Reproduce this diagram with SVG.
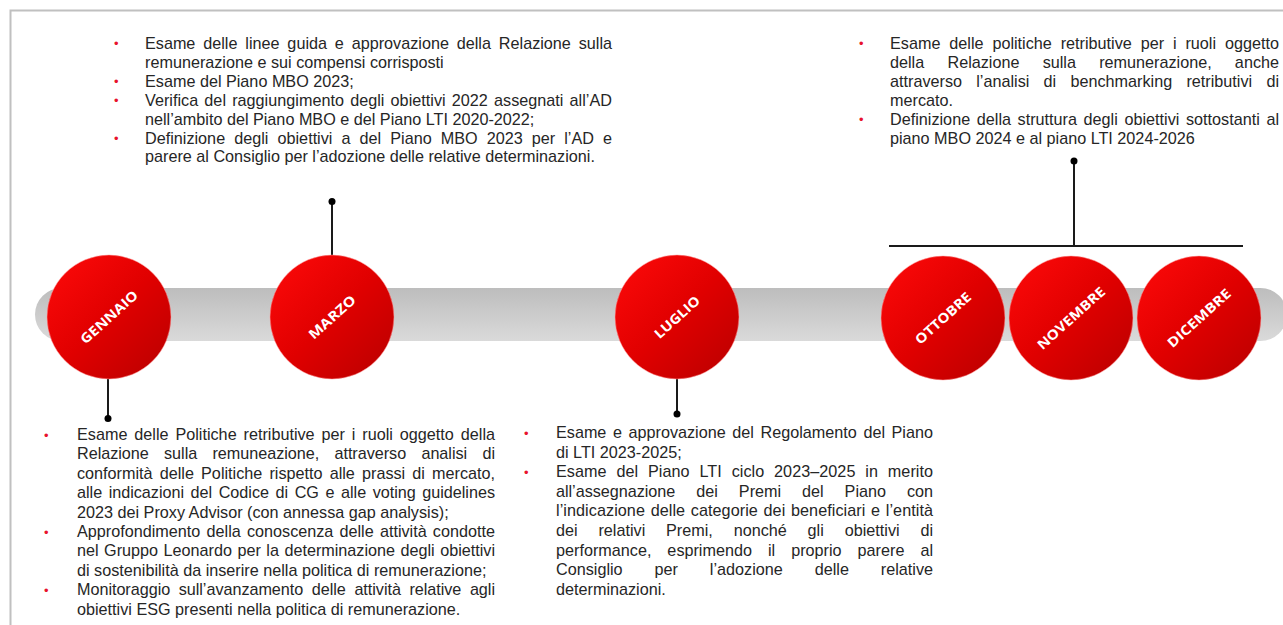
<svg xmlns="http://www.w3.org/2000/svg" width="1283" height="625" viewBox="0 0 1283 625">
<defs>
<linearGradient id="red" x1="0" y1="0" x2="1" y2="1">
<stop offset="0" stop-color="#ff0a0a"/>
<stop offset="0.5" stop-color="#e00000"/>
<stop offset="1" stop-color="#b80000"/>
</linearGradient>
<linearGradient id="bar" x1="0" y1="0" x2="0" y2="1">
<stop offset="0" stop-color="#bdbdbd"/>
<stop offset="1" stop-color="#dadada"/>
</linearGradient>
</defs>
<style>
.t{font-family:"Liberation Sans",Arial,sans-serif;font-size:16.2px;fill:#262626}
.b{font-family:"Liberation Sans",Arial,sans-serif;font-size:13px;fill:#e8112d}
.m{font-family:"Open Sans","Liberation Sans",sans-serif;font-weight:700;font-size:13.5px;fill:#ffffff}
.c{fill:url(#red);stroke:#ff9a9a;stroke-opacity:0.5;stroke-width:1}
.ln{stroke:#1a1a1a;stroke-width:2;fill:none}
.dot{fill:#000}
</style>
<rect width="1283" height="625" fill="#ffffff"/>
<path d="M10.5 625 V10.5 H1283" fill="none" stroke="#c0c0c0" stroke-width="2"/>
<rect x="35" y="288" width="1252" height="53" rx="26.5" fill="url(#bar)"/>

<g id="connectors">
<line class="ln" x1="108" y1="379" x2="108" y2="418"/>
<circle class="dot" cx="108" cy="418.5" r="3.5"/>
<line class="ln" x1="332" y1="202" x2="332" y2="259"/>
<circle class="dot" cx="332" cy="201.5" r="3.5"/>
<line class="ln" x1="677" y1="377" x2="677" y2="414"/>
<circle class="dot" cx="677" cy="414" r="3.5"/>
<line class="ln" x1="889" y1="246" x2="1243" y2="246"/>
<line class="ln" x1="1074" y1="161" x2="1074" y2="246"/>
<circle class="dot" cx="1074" cy="161" r="3.5"/>
</g>

<g id="gennaio"><circle class="c" cx="109" cy="317" r="62"/><text class="m" transform="translate(109 317) rotate(-42)" text-anchor="middle" y="5" textLength="72" lengthAdjust="spacingAndGlyphs">GENNAIO</text></g>
<g id="marzo"><circle class="c" cx="332" cy="317" r="62"/><text class="m" transform="translate(332 317) rotate(-42)" text-anchor="middle" y="5" textLength="58" lengthAdjust="spacingAndGlyphs">MARZO</text></g>
<g id="luglio"><circle class="c" cx="677" cy="317" r="62"/><text class="m" transform="translate(677 317) rotate(-42)" text-anchor="middle" y="5" textLength="56" lengthAdjust="spacingAndGlyphs">LUGLIO</text></g>
<g id="ottobre"><circle class="c" cx="943" cy="318" r="62"/><text class="m" transform="translate(943 318) rotate(-42)" text-anchor="middle" y="5" textLength="70" lengthAdjust="spacingAndGlyphs">OTTOBRE</text></g>
<g id="novembre"><circle class="c" cx="1071" cy="318" r="62"/><text class="m" transform="translate(1071 318) rotate(-42)" text-anchor="middle" y="5" textLength="86" lengthAdjust="spacingAndGlyphs">NOVEMBRE</text></g>
<g id="dicembre"><circle class="c" cx="1199" cy="318" r="62"/><text class="m" transform="translate(1199 318) rotate(-42)" text-anchor="middle" y="5" textLength="80" lengthAdjust="spacingAndGlyphs">DICEMBRE</text></g>

<g id="notes-marzo">
<text class="b" x="114" y="48">•</text>
<text class="b" x="114" y="86.4">•</text>
<text class="b" x="114" y="105.3">•</text>
<text class="b" x="114" y="143.1">•</text>
<text class="t" x="145" y="49" word-spacing="3.35" textLength="467" lengthAdjust="spacing">Esame delle linee guida e approvazione della Relazione sulla</text>
<text class="t" x="145" y="67.9">remunerazione e sui compensi corrisposti</text>
<text class="t" x="145" y="86.8">Esame del Piano MBO 2023;</text>
<text class="t" x="145" y="105.7" word-spacing="1.6" textLength="467" lengthAdjust="spacing">Verifica del raggiungimento degli obiettivi 2022 assegnati all’AD</text>
<text class="t" x="145" y="124.6">nell’ambito del Piano MBO e del Piano LTI 2020-2022;</text>
<text class="t" x="145" y="143.5" word-spacing="4.56" textLength="467" lengthAdjust="spacing">Definizione degli obiettivi a del Piano MBO 2023 per l’AD e</text>
<text class="t" x="145" y="162.4">parere al Consiglio per l’adozione delle relative determinazioni.</text>
</g>

<g id="notes-ottobre">
<text class="b" x="859" y="48">•</text>
<text class="b" x="859" y="123.6">•</text>
<text class="t" x="890" y="49" word-spacing="4.38" textLength="389" lengthAdjust="spacing">Esame delle politiche retributive per i ruoli oggetto</text>
<text class="t" x="890" y="67.9" word-spacing="18.7" textLength="389" lengthAdjust="spacing">della Relazione sulla remunerazione, anche</text>
<text class="t" x="890" y="86.8" word-spacing="9.74" textLength="389" lengthAdjust="spacing">attraverso l’analisi di benchmarking retributivi di</text>
<text class="t" x="890" y="105.7">mercato.</text>
<text class="t" x="890" y="124.6" word-spacing="2.1" textLength="389" lengthAdjust="spacing">Definizione della struttura degli obiettivi sottostanti al</text>
<text class="t" x="890" y="143.5">piano MBO 2024 e al piano LTI 2024-2026</text>
</g>

<g id="notes-gennaio">
<text class="b" x="44" y="439.6">•</text>
<text class="b" x="44" y="536.6">•</text>
<text class="b" x="44" y="594.8">•</text>
<text class="t" x="77" y="440" word-spacing="2.4" textLength="418" lengthAdjust="spacing">Esame delle Politiche retributive per i ruoli oggetto della</text>
<text class="t" x="77" y="459.4" word-spacing="10.85" textLength="418" lengthAdjust="spacing">Relazione sulla remuneazione, attraverso analisi di</text>
<text class="t" x="77" y="478.8" word-spacing="2.6" textLength="418" lengthAdjust="spacing">conformità delle Politiche rispetto alle prassi di mercato,</text>
<text class="t" x="77" y="498.2" word-spacing="2.1" textLength="418" lengthAdjust="spacing">alle indicazioni del Codice di CG e alle voting guidelines</text>
<text class="t" x="77" y="517.6">2023 dei Proxy Advisor (con annessa gap analysis);</text>
<text class="t" x="77" y="537" word-spacing="1.66" textLength="418" lengthAdjust="spacing">Approfondimento della conoscenza delle attività condotte</text>
<text class="t" x="77" y="556.4" word-spacing="1.06" textLength="418" lengthAdjust="spacing">nel Gruppo Leonardo per la determinazione degli obiettivi</text>
<text class="t" x="77" y="575.8">di sostenibilità da inserire nella politica di remunerazione;</text>
<text class="t" x="77" y="595.2" word-spacing="4.1" textLength="418" lengthAdjust="spacing">Monitoraggio sull’avanzamento delle attività relative agli</text>
<text class="t" x="77" y="614.6">obiettivi ESG presenti nella politica di remunerazione.</text>
</g>

<g id="notes-luglio">
<text class="b" x="524" y="437.6">•</text>
<text class="b" x="524" y="476.8">•</text>
<text class="t" x="556" y="438" word-spacing="2.07" textLength="377" lengthAdjust="spacing">Esame e approvazione del Regolamento del Piano</text>
<text class="t" x="556" y="457.6">di LTI 2023-2025;</text>
<text class="t" x="556" y="477.2" word-spacing="5.36" textLength="377" lengthAdjust="spacing">Esame del Piano LTI ciclo 2023–2025 in merito</text>
<text class="t" x="556" y="496.8" word-spacing="16.6" textLength="377" lengthAdjust="spacing">all’assegnazione dei Premi del Piano con</text>
<text class="t" x="556" y="516.4" word-spacing="1.07" textLength="377" lengthAdjust="spacing">l’indicazione delle categorie dei beneficiari e l’entità</text>
<text class="t" x="556" y="536" word-spacing="16.3" textLength="377" lengthAdjust="spacing">dei relativi Premi, nonché gli obiettivi di</text>
<text class="t" x="556" y="555.6" word-spacing="11.5" textLength="377" lengthAdjust="spacing">performance, esprimendo il proprio parere al</text>
<text class="t" x="556" y="575.2" word-spacing="27.4" textLength="377" lengthAdjust="spacing">Consiglio per l’adozione delle relative</text>
<text class="t" x="556" y="594.8">determinazioni.</text>
</g>
</svg>
